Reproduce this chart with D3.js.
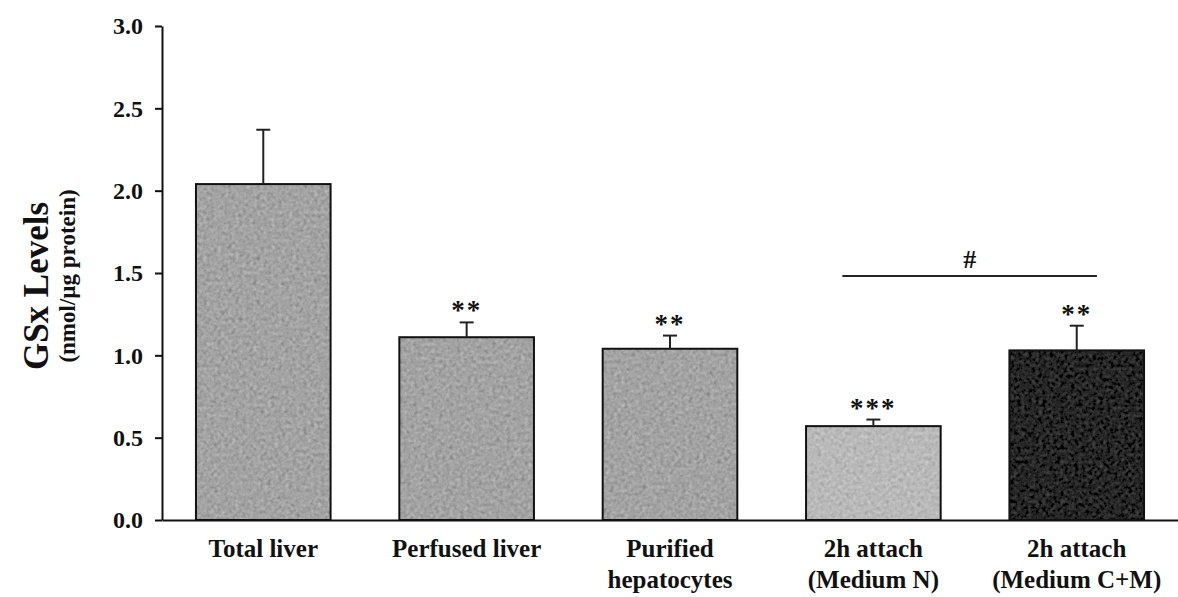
<!DOCTYPE html>
<html>
<head>
<meta charset="utf-8">
<script src="https://cdn.jsdelivr.net/npm/d3@7/dist/d3.min.js"></script>
<style>
  html, body { margin: 0; padding: 0; background: #fff; }
  svg { display: block; }
  text { font-family: "Liberation Serif", "Times New Roman", serif; font-weight: bold; fill: #111; }
</style>
</head>
<body>
<svg id="chart" width="1178" height="597"></svg>
<script>
// GSx levels per preparation (nmol/µg protein), mean with upper SEM
const categories = ["Total liver", "Perfused liver", "Purified\nhepatocytes", "2h attach\n(Medium N)", "2h attach\n(Medium C+M)"];
const values = [2.04, 1.11, 1.04, 0.57, 1.03];
const errors = [0.33, 0.09, 0.08, 0.04, 0.15];
const marks = ["", "**", "**", "***", "**"];
const yTicks = [0.0, 0.5, 1.0, 1.5, 2.0, 2.5, 3.0];
const bracketFrom = "2h attach\n(Medium N)";
const bracketTo = "2h attach\n(Medium C+M)";
const bracketLabel = "#";

const fills = ["#a3a3a3", "#a3a3a3", "#a3a3a3", "#b9b9b9", "#262626"];
const grainFor = ["grain", "grain", "grain", "grain", "grainDark"];

const svg = d3.select("#chart");

const x = d3.scaleBand()
  .domain(categories)
  .range([162, 1178])
  .paddingInner(0.338)
  .paddingOuter(0.167);

const y = d3.scaleLinear().domain([0, 3]).range([520, 26]);

const color = d3.scaleOrdinal().domain(categories).range(fills);

// grainy fill textures for the bars
const defs = svg.append("defs");
function grain(id, amount) {
  const f = defs.append("filter").attr("id", id)
    .attr("x", 0).attr("y", 0).attr("width", 1).attr("height", 1);
  f.append("feTurbulence").attr("type", "fractalNoise").attr("baseFrequency", 0.28)
    .attr("numOctaves", 2).attr("seed", 7).attr("result", "noise");
  f.append("feColorMatrix").attr("in", "noise").attr("type", "matrix")
    .attr("values", "0.33 0.33 0.33 0 0  0.33 0.33 0.33 0 0  0.33 0.33 0.33 0 0  0 0 0 0 1")
    .attr("result", "gray");
  f.append("feComposite").attr("in", "SourceGraphic").attr("in2", "gray")
    .attr("operator", "arithmetic")
    .attr("k1", 0).attr("k2", 1).attr("k3", amount).attr("k4", -amount / 2);
}
grain("grain", 0.55);
grain("grainDark", 0.18);

// bars
const bars = svg.append("g");
bars.selectAll("rect.fill")
  .data(categories)
  .join("rect")
  .attr("class", "fill")
  .attr("x", d => x(d))
  .attr("y", (d, i) => y(values[i]))
  .attr("width", x.bandwidth())
  .attr("height", (d, i) => y(0) - y(values[i]))
  .attr("fill", d => color(d))
  .attr("filter", (d, i) => `url(#${grainFor[i]})`);

bars.selectAll("rect.edge")
  .data(categories)
  .join("rect")
  .attr("class", "edge")
  .attr("x", d => x(d))
  .attr("y", (d, i) => y(values[i]))
  .attr("width", x.bandwidth())
  .attr("height", (d, i) => y(0) - y(values[i]))
  .attr("fill", "none")
  .attr("stroke", "#111")
  .attr("stroke-width", 2);

// upper error bars
const err = svg.append("g").attr("stroke", "#222").attr("stroke-width", 2);
categories.forEach((c, i) => {
  const cx = x(c) + x.bandwidth() / 2;
  err.append("line")
    .attr("x1", cx).attr("x2", cx)
    .attr("y1", y(values[i])).attr("y2", y(values[i] + errors[i]));
  err.append("line")
    .attr("x1", cx - 7).attr("x2", cx + 7)
    .attr("y1", y(values[i] + errors[i])).attr("y2", y(values[i] + errors[i]));
});

// significance stars
svg.append("g").selectAll("text")
  .data(categories)
  .join("text")
  .attr("x", d => x(d) + x.bandwidth() / 2)
  .attr("y", (d, i) => y(values[i] + errors[i]) - 3)
  .attr("text-anchor", "middle")
  .style("font-size", "27px")
  .style("letter-spacing", "2px")
  .text((d, i) => marks[i]);

// bracket between the two attachment media
const bx1 = x(bracketFrom) + x.bandwidth() * 0.27;
const bx2 = x(bracketTo) + x.bandwidth() * 0.65;
const by = 276;
svg.append("line")
  .attr("x1", bx1).attr("x2", bx2).attr("y1", by).attr("y2", by)
  .attr("stroke", "#222").attr("stroke-width", 2);
svg.append("text")
  .attr("x", (bx1 + bx2) / 2)
  .attr("y", by - 8)
  .attr("text-anchor", "middle")
  .style("font-size", "26px")
  .text(bracketLabel);

// y axis
const yAxis = svg.append("g")
  .attr("transform", "translate(162,0)")
  .call(d3.axisLeft(y).tickValues(yTicks).tickFormat(d3.format(".1f"))
    .tickSize(7).tickSizeOuter(0).tickPadding(12));
yAxis.select(".domain").attr("stroke", "#111").attr("stroke-width", 2);
yAxis.selectAll(".tick line").attr("stroke", "#111").attr("stroke-width", 2);
yAxis.selectAll(".tick text")
  .style("font-size", "24px")
  .style("font-family", "'Liberation Serif', serif")
  .style("font-weight", "bold")
  .attr("fill", "#111");

// x axis with two-line category labels
const xAxis = svg.append("g")
  .attr("transform", "translate(0,520)")
  .call(d3.axisBottom(x).tickSize(0).tickSizeOuter(0).tickPadding(0));
xAxis.select(".domain").attr("stroke", "#111").attr("stroke-width", 2);
xAxis.selectAll(".tick text")
  .style("font-size", "25px")
  .style("font-family", "'Liberation Serif', serif")
  .style("font-weight", "bold")
  .attr("fill", "#111")
  .attr("dy", null)
  .attr("y", 0)
  .each(function (d) {
    const t = d3.select(this);
    t.text(null);
    d.split("\n").forEach((line, k) => {
      t.append("tspan").attr("x", 0).attr("y", 37 + k * 31).text(line);
    });
  });

// y axis titles
svg.append("text")
  .attr("transform", "translate(48,286) rotate(-90)")
  .attr("text-anchor", "middle")
  .style("font-size", "35px")
  .text("GSx Levels");
svg.append("text")
  .attr("transform", "translate(75,276) rotate(-90)")
  .attr("text-anchor", "middle")
  .style("font-size", "23px")
  .text("(nmol/µg protein)");
</script>
</body>
</html>
